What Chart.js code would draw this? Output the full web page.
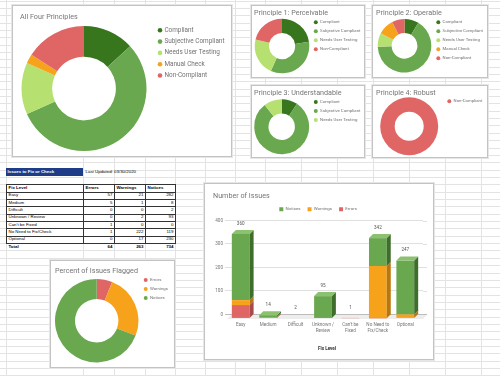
<!DOCTYPE html>
<html>
<head>
<meta charset="utf-8">
<script src="https://cdn.jsdelivr.net/npm/chart.js@4.4.1/dist/chart.umd.min.js"></script>
<style>
  html, body { margin:0; padding:0; background:#fff; width:500px; height:376px; overflow:hidden; position:relative; }
  .gv { position:absolute; top:0; width:1px; height:376px; background:#e3e3e3; }
  .gh { position:absolute; left:0; width:500px; height:1px; background:#e3e3e3; }
  .panel { position:absolute; background:#fff; border:1px solid #c3c3c3; box-sizing:border-box; box-shadow:0 0 0 1px #e6e6e6; }
  .title { position:absolute; font-family:Roboto, sans-serif; font-size:7.2px; line-height:1; color:#757575; white-space:nowrap; }
  canvas { position:absolute; }
  .cell { position:absolute; font-family:'Liberation Sans', Arial, sans-serif; font-size:4.4px; color:#000; white-space:nowrap; box-sizing:border-box; overflow:visible; }
  .tl { position:absolute; background:#333; }
</style>
</head>
<body>
<script>
// ---------------- DATA ----------------
const principleLabels = ['Compliant', 'Subjective Compliant', 'Needs User Testing', 'Manual Check', 'Non-Compliant'];
const allFourValues = [13.2, 55.1, 13.4, 2.4, 15.9];
const p1Labels = ['Compliant', 'Subjective Compliant', 'Needs User Testing', 'Non-Compliant'];
const p1Values = [22.5, 34.2, 22.2, 21.1];
const p2Labels = ['Compliant', 'Subjective Compliant', 'Needs User Testing', 'Manual Check', 'Non-Compliant'];
const p2Values = [8.6, 65.8, 8.3, 9.7, 7.6];
const p3Labels = ['Compliant', 'Subjective Compliant', 'Needs User Testing'];
const p3Values = [9.4, 80.0, 10.6];
const p4Labels = ['Non-Compliant'];
const p4Values = [100];

const fixLevels = ['Easy', 'Medium', 'Difficult', 'Unknown / Review', "Can't be Fixed", 'No Need to Fix/Check', 'Optional'];
const fixLevelTicks = ['Easy', 'Medium', 'Difficult', ['Unknown /', 'Review'], ["Can't be", 'Fixed'], ['No Need to', 'Fix/Check'], 'Optional'];
const issueTypes = ['Errors', 'Warnings', 'Notices'];
const errors   = [57, 5, 0, 0, 1, 1, 0];
const warnings = [21, 1, 0, 2, 0, 222, 17];
const notices  = [282, 8, 2, 93, 0, 119, 230];
const yTickMax = 400;
const yTickStep = 100;

const tableTitle = 'Issues to Fix or Check';
const lastUpdated = 'Last Updated: 03/30/2020';

// ---------------- STYLE ----------------
const C_COMPLIANT = '#38761d', C_SUBJ = '#6aa84f', C_NUT = '#b6e070', C_MANUAL = '#f7a21b', C_NON = '#e06666';
const principleColors = { 'Compliant': C_COMPLIANT, 'Subjective Compliant': C_SUBJ, 'Needs User Testing': C_NUT, 'Manual Check': C_MANUAL, 'Non-Compliant': C_NON };
const issueColors = { Errors: '#e06666', Warnings: '#f7a21b', Notices: '#6aa84f' };
const issueSide = { Errors: '#a94a4a', Warnings: '#b8760e', Notices: '#3f6e2c' };
const issueTop = { Errors: '#e98b8b', Warnings: '#f9bb55', Notices: '#8cc26f' };

Chart.defaults.font.family = 'Roboto';
const root = document.body;
const px = v => v + 'px';
function el(tag, cls, style, text) {
  const e = document.createElement(tag);
  if (cls) e.className = cls;
  Object.assign(e.style, style || {});
  if (text != null) e.textContent = text;
  root.appendChild(e);
  return e;
}

// ---------------- SHEET GRID ----------------
const sheetCols = [6, 83, 114, 145, 175, 205, 235, 265, 301, 337, 373, 409, 445, 481];
sheetCols.forEach(x => el('div', 'gv', { left: px(x) }));
for (let k = 0; k < 52; k++) el('div', 'gh', { top: px(Math.round(0.55 + 7.35 * k)) });

// ---------------- TABLE ----------------
const sum = a => a.reduce((s, v) => s + v, 0);
const totals = [sum(errors), sum(warnings), sum(notices)];
const tCols = [6, 83, 114, 145, 175];
const tTop = 184.3, rowH = 7.35;
function cell(x, y, w, h, text, o) {
  o = o || {};
  return el('div', 'cell', Object.assign({
    left: px(x), top: px(y), width: px(w), height: px(h), lineHeight: px(h),
    textAlign: o.align || 'left',
    padding: o.align === 'right' ? '0 1.5px 0 0' : '0 0 0 1.5px',
    fontWeight: o.bold ? 'bold' : 'normal'
  }, o.style || {}), text);
}
cell(6, 168.3, 77, 7.7, tableTitle, { bold: true, style: { background: '#1f3c88', color: '#fff' } });
cell(84, 168.3, 80, 7.7, lastUpdated);
const tableRows = [['Fix Level'].concat(issueTypes)].concat(fixLevels.map((f, i) => [f, errors[i], warnings[i], notices[i]]));
tableRows.forEach((row, r) => {
  row.forEach((v, c) => {
    cell(tCols[c] + 1, tTop + r * rowH + 0.6, tCols[c + 1] - tCols[c] - 1, rowH - 1, String(v),
      { bold: r === 0, align: (r === 0 || c === 0) ? 'left' : 'right' });
  });
});
['Total'].concat(totals).forEach((v, c) => {
  cell(tCols[c] + 1, tTop + 8 * rowH + 0.6, tCols[c + 1] - tCols[c] - 1, rowH - 1, String(v),
    { bold: true, align: c === 0 ? 'left' : 'right' });
});
for (let r = 0; r <= 8; r++) el('div', 'tl', { left: '6px', top: px(Math.round(tTop + r * rowH)), width: '170px', height: '1px' });
tCols.forEach(c => el('div', 'tl', { left: px(c), top: '184px', width: '1px', height: '60px' }));

// ---------------- PANELS ----------------
const panels = [[12, 5, 220, 152], [251, 5, 114, 73], [372, 5, 116, 73], [251, 85, 114, 73], [372, 85, 116, 73], [50, 260, 125, 108], [204, 183, 230, 177]];
panels.forEach(p => el('div', 'panel', { left: px(p[0]), top: px(p[1]), width: px(p[2]), height: px(p[3]) }));

// ---------------- HELPERS ----------------
function placePlugin(area, legendPos, vertical) {
  return {
    id: 'place',
    afterLayout(chart) {
      if (area) {
        Object.assign(chart.chartArea, { left: area.l, top: area.t, right: area.r, bottom: area.b, width: area.r - area.l, height: area.b - area.t });
      }
      if (legendPos) {
        const lg = chart.legend;
        const h = lg.bottom - lg.top;
        if (legendPos.x != null) { lg.left = legendPos.x; lg.right = chart.width; lg.width = lg.right - lg.left; }
        lg.top = legendPos.y;
        lg.bottom = vertical ? chart.height : lg.top + h;
        lg.height = lg.bottom - lg.top;
      }
    }
  };
}

function donut(cfg) {
  const { box, cx, cy, r, cutout, labels, values, lg } = cfg;
  const cv = el('canvas', null, { left: px(box[0]), top: px(box[1]) });
  cv.width = box[2]; cv.height = box[3];
  const area = { l: cx - r - box[0], t: cy - r - box[1], r: cx + r - box[0], b: cy + r - box[1] };
  const bw = Math.min(lg.bw, lg.fs);
  const legendPos = { x: lg.x - lg.pad - bw / 2 - box[0], y: lg.y - lg.pad - lg.fs / 2 - box[1] };
  new Chart(cv, {
    type: 'doughnut',
    data: { labels: labels, datasets: [{ data: values, backgroundColor: cfg.colors, borderWidth: 0, hoverOffset: 0, offset: 0, clip: false }] },
    options: {
      responsive: false, animation: false, events: [],
      cutout: cutout,
      plugins: {
        legend: {
          position: 'right', align: 'start',
          labels: { usePointStyle: true, pointStyle: 'circle', boxWidth: bw, boxHeight: lg.bh, padding: lg.pad, color: '#727272', font: { size: lg.fs, family: 'Roboto' } }
        },
        tooltip: { enabled: false }
      }
    },
    plugins: [placePlugin(area, legendPos, true)]
  });
}

const bigLg = (x, y) => ({ x: x, y: y, fs: 6.4, pad: 4.9, bw: 2.5, bh: 3.25 });
const smallLg = (x, y) => ({ x: x, y: y, fs: 4.3, pad: 4.7, bw: 4.3, bh: 2.8 });

// ---------------- DONUTS ----------------
donut({ box: [13, 6, 218, 150], cx: 84, cy: 88.5, r: 62.5, cutout: '51%', labels: principleLabels, values: allFourValues,
  colors: principleLabels.map(l => principleColors[l]), lg: bigLg(160, 30.3) });
donut({ box: [252, 6, 112, 71], cx: 282, cy: 46, r: 27.3, cutout: '48%', labels: p1Labels, values: p1Values,
  colors: p1Labels.map(l => principleColors[l]), lg: smallLg(315.8, 22.3) });
donut({ box: [373, 6, 114, 71], cx: 404.5, cy: 45.8, r: 26.8, cutout: '48%', labels: p2Labels, values: p2Values,
  colors: p2Labels.map(l => principleColors[l]), lg: smallLg(438.3, 22.3) });
donut({ box: [252, 86, 112, 71], cx: 281.7, cy: 126.7, r: 27.5, cutout: '48%', labels: p3Labels, values: p3Values,
  colors: p3Labels.map(l => principleColors[l]), lg: smallLg(315.8, 102) });
donut({ box: [373, 86, 114, 71], cx: 409.2, cy: 126.2, r: 29, cutout: '50%', labels: p4Labels, values: p4Values,
  colors: p4Labels.map(l => principleColors[l]), lg: smallLg(449.3, 101.3) });
donut({ box: [51, 261, 123, 106], cx: 96.7, cy: 320.7, r: 41.7, cutout: '52%', labels: issueTypes, values: totals,
  colors: issueTypes.map(l => issueColors[l]), lg: smallLg(145.7, 280) });

// ---------------- BAR CHART ----------------
const DEPTH = 4;
const seriesData = { Errors: errors, Warnings: warnings, Notices: notices };
const bar3d = {
  id: 'bar3d',
  beforeDatasetsDraw(chart) {
    const { ctx, chartArea, scales } = chart;
    const L = chartArea.left, R = chartArea.right;
    const b = scales.y.getPixelForValue(0);
    ctx.save();
    ctx.fillStyle = '#ededed';
    ctx.beginPath();
    ctx.moveTo(L, b + 0.5); ctx.lineTo(R + DEPTH, b + 0.5); ctx.lineTo(R, b + DEPTH + 0.5); ctx.lineTo(L - DEPTH, b + DEPTH + 0.5);
    ctx.closePath(); ctx.fill();
    ctx.lineWidth = 1;
    scales.y.ticks.forEach(t => {
      const py = Math.round(scales.y.getPixelForValue(t.value)) + 0.5;
      ctx.strokeStyle = t.value === 0 ? '#bdbdbd' : '#e0e0e0';
      ctx.beginPath(); ctx.moveTo(R, py); ctx.lineTo(R + DEPTH, py); ctx.stroke();
    });
    ctx.restore();
    ctx.save();
    ctx.translate(-DEPTH, DEPTH);
  },
  afterDatasetsDraw(chart) {
    const ctx = chart.ctx;
    ctx.restore();
    const n = chart.data.labels.length;
    for (let i = 0; i < n; i++) {
      let topFace = null;
      chart.data.datasets.forEach((ds, di) => {
        const elx = chart.getDatasetMeta(di).data[i];
        const p = elx.getProps(['x', 'y', 'base', 'width'], true);
        if (Math.abs(p.base - p.y) < 0.5) return;
        const l = p.x - p.width / 2 - DEPTH, r = p.x + p.width / 2 - DEPTH, t = p.y + DEPTH, bt = p.base + DEPTH;
        ctx.fillStyle = issueSide[ds.label];
        ctx.beginPath();
        ctx.moveTo(r, t); ctx.lineTo(r + DEPTH, t - DEPTH); ctx.lineTo(r + DEPTH, bt - DEPTH); ctx.lineTo(r, bt);
        ctx.closePath(); ctx.fill();
        topFace = { l: l, r: r, t: t, c: issueTop[ds.label] };
      });
      if (topFace) {
        ctx.fillStyle = topFace.c;
        ctx.beginPath();
        ctx.moveTo(topFace.l, topFace.t); ctx.lineTo(topFace.l + DEPTH, topFace.t - DEPTH);
        ctx.lineTo(topFace.r + DEPTH, topFace.t - DEPTH); ctx.lineTo(topFace.r, topFace.t);
        ctx.closePath(); ctx.fill();
      }
    }
  }
};
const totalLabels = {
  id: 'totalLabels',
  afterDatasetsDraw(chart) {
    const { ctx, scales } = chart;
    ctx.save();
    ctx.font = '4.6px Roboto';
    ctx.fillStyle = '#555';
    ctx.textAlign = 'center';
    ctx.textBaseline = 'middle';
    fixLevels.forEach((f, i) => {
      const t = errors[i] + warnings[i] + notices[i];
      ctx.fillText(String(t), scales.x.getPixelForValue(i) - DEPTH, scales.y.getPixelForValue(t) - 6.5);
    });
    ctx.restore();
  }
};

const barCanvas = el('canvas', null, { left: '204px', top: '183px' });
barCanvas.width = 230; barCanvas.height = 177;
new Chart(barCanvas, {
  type: 'bar',
  data: {
    labels: fixLevelTicks,
    datasets: issueTypes.map(name => ({
      label: name, data: seriesData[name], backgroundColor: issueColors[name], borderWidth: 0, clip: false,
      barPercentage: 0.8, categoryPercentage: 0.81
    }))
  },
  options: {
    responsive: false, animation: false, events: [],
    layout: { padding: { left: 9.25, right: 11, top: 16.1, bottom: 6.5 } },
    scales: {
      x: {
        stacked: true,
        grid: { display: false, drawTicks: false },
        border: { display: false },
        ticks: { padding: 7.3, labelOffset: -DEPTH, autoSkip: false, maxRotation: 0, color: '#757575', font: { size: 4.6, lineHeight: 1.3 } },
        title: { display: true, text: 'Fix Level', color: '#333', font: { size: 4.6, weight: 'bold', lineHeight: 1.2 }, padding: { top: 5, bottom: 2 } }
      },
      y: {
        stacked: true, min: 0, max: yTickMax,
        border: { display: false },
        grid: { drawTicks: true, tickLength: 6, color: c => (c.tick && c.tick.value === 0) ? '#bdbdbd' : '#e0e0e0' },
        ticks: { stepSize: yTickStep, padding: 2, color: '#757575', font: { size: 4.6 } }
      }
    },
    plugins: {
      legend: { position: 'top', reverse: true, labels: { boxWidth: 4, boxHeight: 4, padding: 7, color: '#727272', font: { size: 4.4 } } },
      tooltip: { enabled: false }
    }
  },
  plugins: [bar3d, totalLabels, placePlugin(null, { y: 17.1 }, false)]
});

// ---------------- TITLES ----------------
const titles = [
  ['All Four Principles', 20, 13.2],
  ['Principle 1: Perceivable', 254, 9.2],
  ['Principle 2: Operable', 376, 9.2],
  ['Principle 3: Understandable', 254, 89.2],
  ['Principle 4: Robust', 376, 88.8],
  ['Percent of Issues Flagged', 55, 266.5],
  ['Number of Issues', 213, 192.4]
];
titles.forEach(t => el('div', 'title', { left: px(t[1]), top: px(t[2]) }, t[0]));
</script>
</body>
</html>
